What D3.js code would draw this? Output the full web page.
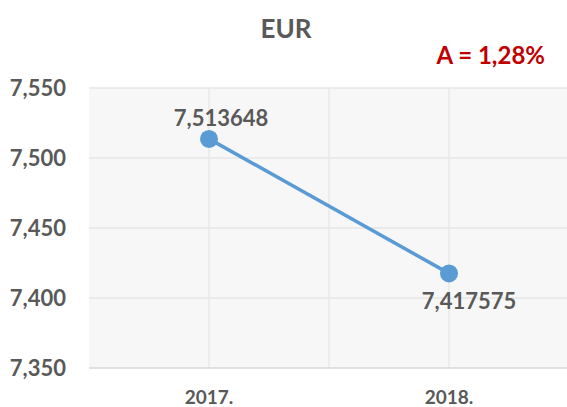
<!DOCTYPE html>
<html>
<head>
<meta charset="utf-8">
<script src="https://cdn.jsdelivr.net/npm/d3@7"></script>
<style>
  body { margin: 0; background: #fff; }
  text { font-family: Lato, "Open Sans", sans-serif; font-weight: bold; fill: #595959; }
</style>
</head>
<body>
<script>
// chart data
var years = ["2017.", "2018."];
var rates = [7.513648, 7.417575];
var rateLabels = ["7,513648", "7,417575"];
var yTicks = [7.35, 7.40, 7.45, 7.50, 7.55];
var yTickLabels = ["7,350", "7,400", "7,450", "7,500", "7,550"];
var titleText = "EUR";
var noteText = "A = 1,28%";

window.onload = () => {
  var W = 567, H = 407;
  var margin = { top: 88, right: 0, bottom: 39, left: 89 };
  var plotW = 480, height = H - margin.top - margin.bottom;

  var svg = d3.select("body").append("svg")
    .attr("width", W)
    .attr("height", H);

  var g = svg.append("g")
    .attr("transform", "translate(" + margin.left + "," + margin.top + ")");

  // scales
  var x = d3.scaleBand().domain(years).range([0, plotW]);
  var y = d3.scaleLinear().domain([7.35, 7.55]).range([height, 0]);

  // plot background
  g.append("rect")
    .attr("width", plotW).attr("height", height)
    .attr("fill", "#f7f7f7");

  // horizontal gridlines
  g.selectAll(".hgrid")
    .data(yTicks.slice(1))
    .enter().append("line")
    .attr("x1", 0).attr("x2", plotW)
    .attr("y1", d => y(d)).attr("y2", d => y(d))
    .attr("stroke", "#e6e6e6").attr("stroke-width", 1.3);

  // vertical gridlines at band centers and band edges
  var vlines = [];
  years.forEach(function (c) {
    vlines.push(x(c) + x.bandwidth() / 2);
    vlines.push(x(c) + x.bandwidth());
  });
  g.selectAll(".vgrid")
    .data(vlines)
    .enter().append("line")
    .attr("x1", d => d).attr("x2", d => d)
    .attr("y1", 0).attr("y2", height)
    .attr("stroke", "#e6e6e6").attr("stroke-width", 1.3);

  // bottom axis line
  g.append("line")
    .attr("x1", 0).attr("x2", plotW)
    .attr("y1", height).attr("y2", height)
    .attr("stroke", "#d9d9d9").attr("stroke-width", 1.5);

  // y tick labels
  g.selectAll(".ylab")
    .data(yTicks)
    .enter().append("text")
    .attr("x", -23)
    .attr("y", d => y(d))
    .attr("dy", "0.35em")
    .attr("text-anchor", "end")
    .style("font-size", "22px")
    .text((d, i) => yTickLabels[i]);

  // x labels
  g.selectAll(".xlab")
    .data(years)
    .enter().append("text")
    .attr("x", d => x(d) + x.bandwidth() / 2)
    .attr("y", height + 36)
    .attr("text-anchor", "middle")
    .style("font-size", "19px")
    .text(d => d);

  // line
  var pts = years.map((c, i) => [x(c) + x.bandwidth() / 2, y(rates[i])]);
  g.append("path")
    .attr("d", d3.line()(pts))
    .attr("fill", "none")
    .attr("stroke", "#5b9bd5")
    .attr("stroke-width", 3.5);

  g.selectAll(".dot")
    .data(pts)
    .enter().append("circle")
    .attr("cx", d => d[0]).attr("cy", d => d[1])
    .attr("r", 9)
    .attr("fill", "#5b9bd5");

  // data labels: first above, second below
  g.selectAll(".dlab")
    .data(pts)
    .enter().append("text")
    .attr("x", (d, i) => d[0] + (i === 0 ? 12 : 20))
    .attr("y", (d, i) => i === 0 ? d[1] - 13 : d[1] + 36)
    .attr("text-anchor", "middle")
    .style("font-size", "22px")
    .text((d, i) => rateLabels[i]);

  // title and note
  svg.append("text")
    .attr("x", 286).attr("y", 38)
    .attr("text-anchor", "middle")
    .style("font-size", "26px")
    .text(titleText);

  svg.append("text")
    .attr("x", 545).attr("y", 64)
    .attr("text-anchor", "end")
    .style("font-size", "24px")
    .style("fill", "#c00000")
    .text(noteText);
};
</script>
</body>
</html>
